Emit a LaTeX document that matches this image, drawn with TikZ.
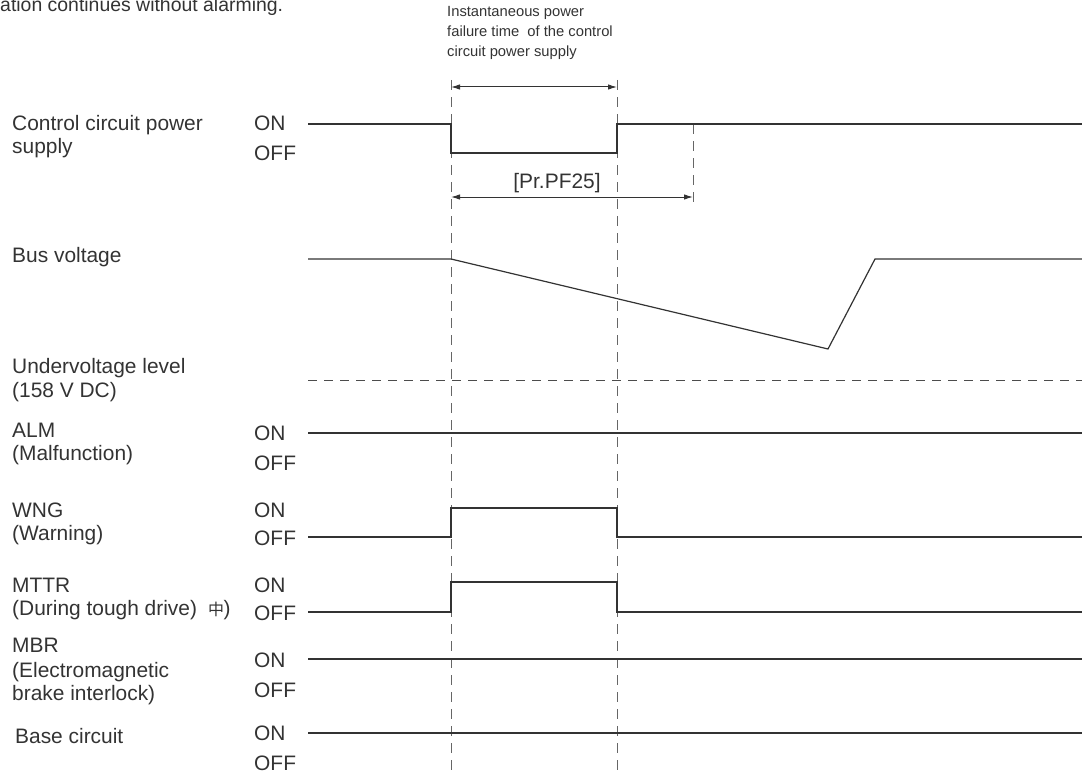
\documentclass[tikz,border=0pt]{standalone}
\usepackage{fontspec}
\setmainfont{Liberation Sans}
\newfontfamily\cjk{Noto Sans CJK JP}
\usetikzlibrary{arrows.meta}
\definecolor{ink}{gray}{0.2}
\tikzset{
  lbl/.style={anchor=base west, inner sep=0pt, font=\fontsize{21}{25}\selectfont, text=ink},
  small/.style={anchor=base west, inner sep=0pt, font=\fontsize{14.8}{18}\selectfont, text=ink},
  sig/.style={line width=1.2bp, draw=ink},
  guide/.style={dash pattern=on 10bp off 7bp, line width=0.9bp, draw=black!60},
  uvline/.style={dash pattern=on 9bp off 7bp, line width=1bp, draw=black!70},
  dimarrow/.style={{Latex[length=9bp,width=5.5bp]}-{Latex[length=9bp,width=5.5bp]}, line width=1bp, draw=ink}
}
\begin{document}
\begin{tikzpicture}[x=1bp,y=-1bp]
\useasboundingbox (0,0) rectangle (1082,773);
% cut-off heading
\node[anchor=base west, inner sep=0pt, font=\fontsize{19.5}{23}\selectfont, text=ink] (head) at (0,12) {ation continues without alarming.};

% time markers
\coordinate (t1top) at (451,80);
\coordinate (t1bot) at (451,773);
\coordinate (t2top) at (617,80);
\coordinate (t2bot) at (617,773);
\coordinate (t3top) at (693,124);
\coordinate (t3bot) at (693,206);
\draw[guide] (t1top) -- (t1bot);
\draw[guide] (t2top) -- (t2bot);
\draw[guide] (t3top) -- (t3bot);

% top annotation
\node[small] (c1) at (447,16.5) {Instantaneous power};
\node[small] (c2) at (447,36.5) {failure time\ \ of the control};
\node[small] (c3) at (447,56.5) {circuit power supply};
\coordinate (a1l) at (451,87);
\coordinate (a1r) at (617,87);
\draw[dimarrow] (a1l) -- (a1r);

\node[anchor=base, inner sep=0pt, font=\fontsize{21}{25}\selectfont, text=ink] (pf) at (557,188) {[Pr.PF25]};
\coordinate (a2l) at (451,197);
\coordinate (a2r) at (693,197);
\draw[dimarrow] (a2l) -- (a2r);

% labels
\node[lbl] (l1a) at (12,130) {Control circuit power};
\node[lbl] (l1b) at (12,153) {supply};
\node[lbl] (on1) at (254,130) {ON};
\node[lbl] (off1) at (254,160) {OFF};

\node[lbl] (l2) at (12,262) {Bus voltage};

\node[lbl] (l3a) at (12,373) {Undervoltage level};
\node[lbl] (l3b) at (12,397) {(158 V DC)};

\node[lbl] (l4a) at (12,437) {ALM};
\node[lbl] (l4b) at (12,460) {(Malfunction)};
\node[lbl] (on4) at (254,440) {ON};
\node[lbl] (off4) at (254,470) {OFF};

\node[lbl] (l5a) at (12,517) {WNG};
\node[lbl] (l5b) at (12,540) {(Warning)};
\node[lbl] (on5) at (254,517) {ON};
\node[lbl] (off5) at (254,545) {OFF};

\node[lbl] (l6a) at (12,592) {MTTR};
\node[lbl] (l6b) at (12,615) {(During tough drive)\hspace{11bp}{\cjk\fontsize{16}{18}\selectfont 中}\kern-0.5bp)};
\node[lbl] (on6) at (254,592) {ON};
\node[lbl] (off6) at (254,620) {OFF};

\node[lbl] (l7a) at (12,652) {MBR};
\node[lbl] (l7b) at (12,677) {(Electromagnetic};
\node[lbl] (l7c) at (12,700) {brake interlock)};
\node[lbl] (on7) at (254,667) {ON};
\node[lbl] (off7) at (254,697) {OFF};

\node[lbl] (l8) at (15,743) {Base circuit};
\node[lbl] (on8) at (254,740) {ON};
\node[lbl] (off8) at (254,770) {OFF};

% signals
\draw[sig] (308,124) -- (451,124) -- (451,153) -- (617,153) -- (617,124) -- (1082,124);
\draw[sig] (308,259) -- (451,259) -- (828,349) -- (875,259) -- (1082,259);
\draw[uvline] (308,380) -- (1082,380);
\draw[sig] (308,433) -- (1082,433);
\draw[sig] (308,537) -- (451,537) -- (451,508) -- (617,508) -- (617,537) -- (1082,537);
\draw[sig] (308,612) -- (451,612) -- (451,582) -- (617,582) -- (617,612) -- (1082,612);
\draw[sig] (308,659) -- (1082,659);
\draw[sig] (308,733) -- (1082,733);
\end{tikzpicture}
\end{document}
